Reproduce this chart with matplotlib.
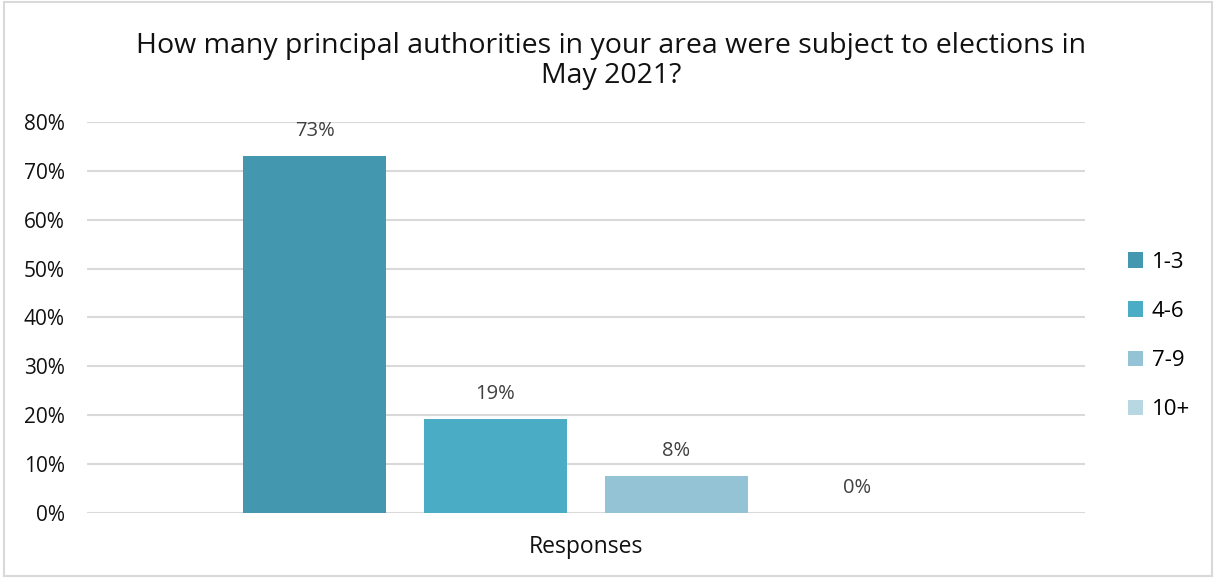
import numpy as np
import matplotlib.pyplot as plt
from matplotlib.patches import Rectangle

# data
categories = ['1-3', '4-6', '7-9', '10+']
values = [73.1, 19.2, 7.6, 0.0]
labels = ['73%', '19%', '8%', '0%']
colors = ['#4398B0', '#4BACC6', '#93C3D5', '#B7D7E3']
yticks = [0, 10, 20, 30, 40, 50, 60, 70, 80]

plt.rcParams['font.family'] = ['Open Sans', 'DejaVu Sans']

fig = plt.figure(figsize=(12.14, 5.78), dpi=100)
ax = fig.add_axes([87/1214, 65/578, 998/1214, 391/578])

x = np.arange(len(categories))
bars = ax.bar(x, values, width=143/181, color=colors, label=categories, zorder=3)

for xi, v, lab in zip(x, values, labels):
    ax.text(xi, v + 3, lab, ha='center', va='bottom', fontsize=14.5, color='#404040')

ax.set_xlim((87 - 314.5) / 181, (1085 - 314.5) / 181)
ax.set_ylim(0, 80)
ax.set_yticks(yticks)
ax.set_yticklabels([f'{t}%' for t in yticks], fontsize=15, color='#111111')
ax.yaxis.grid(True, color='#d9d9d9', linewidth=1.5, zorder=0)
ax.tick_params(axis='y', length=0, pad=16)
ax.set_xticks([])
for s in ax.spines.values():
    s.set_visible(False)

ax.set_xlabel('Responses', fontsize=16.5, color='#111111', labelpad=16)

fig.text(611/1214, 1 - 61/578, 'How many principal authorities in your area were subject to elections in\nMay 2021?',
         ha='center', va='center', fontsize=20.5, color='#111111', linespacing=1.12)

leg = fig.legend(bars, categories, loc='center left', bbox_to_anchor=(1108/1214, 1 - 336/578),
                 frameon=False, fontsize=16, handlelength=0.68, handleheight=0.68,
                 labelspacing=1.27, handletextpad=0.4)

# thin frame around the chart
fig.patches.append(Rectangle((4/1214, 2/578), 1208/1214, 574/578, transform=fig.transFigure,
                             fill=False, edgecolor='#d9d9d9', linewidth=1.5))

fig.savefig('out.png', dpi=100)
